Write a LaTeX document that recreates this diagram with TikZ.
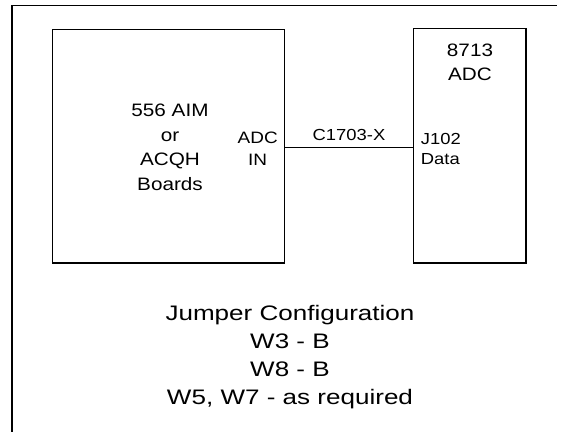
\documentclass[tikz,border=0pt]{standalone}
\usepackage{fontspec}
\setmainfont{Liberation Sans}
\newfontfamily\widea{Liberation Sans}[FakeStretch=1.15]
\newfontfamily\wideb{Liberation Sans}[FakeStretch=1.24]
\begin{document}
\begin{tikzpicture}[x=1pt,y=-1pt,
  box/.style={draw, line width=1.7pt, inner sep=0pt, outer sep=0pt, anchor=north west},
  frame/.style={draw, line width=1.5pt},
  wire/.style={draw, line width=1.3pt},
  lbl/.style={inner sep=0pt, align=center, anchor=base}]
\useasboundingbox (0,0) rectangle (561,431);
\draw[frame] (12,440) -- (12,5.5) -- (557,5.5);
\node[box, minimum width=232pt, minimum height=233.5pt] (L) at (52.5,29.5) {};
\node[box, minimum width=112.5pt, minimum height=234.5pt] (R) at (413.5,28.5) {};
\coordinate (cy) at (0,147.5);
\draw[wire] (L.east |- cy) -- (R.west |- cy);
% anchor "base" of a multi-line node is the baseline of its last line
\node[lbl, font=\widea\fontsize{18}{24.5}\selectfont] (t1) at (170,190) {556 AIM\\or\\ACQH\\Boards};
\node[lbl, font=\widea\fontsize{16.5}{21.7}\selectfont] (t2) at (257.7,165) {ADC\\IN};
\node[lbl, font=\widea\fontsize{16}{20}\selectfont] (t3) at (349,140.7) {C1703-X};
\node[lbl, align=left, anchor=base west, font=\widea\fontsize{16}{20}\selectfont] (t4) at (420.7,164) {J102\\Data};
\node[lbl, font=\widea\fontsize{18}{23.3}\selectfont] (t5) at (470,80) {8713\\ADC};
\node[lbl, font=\wideb\fontsize{21}{27.8}\selectfont] (t6) at (290,404) {Jumper Configuration\\W3 - B\\W8 - B\\W5, W7 - as required};
\end{tikzpicture}
\end{document}
